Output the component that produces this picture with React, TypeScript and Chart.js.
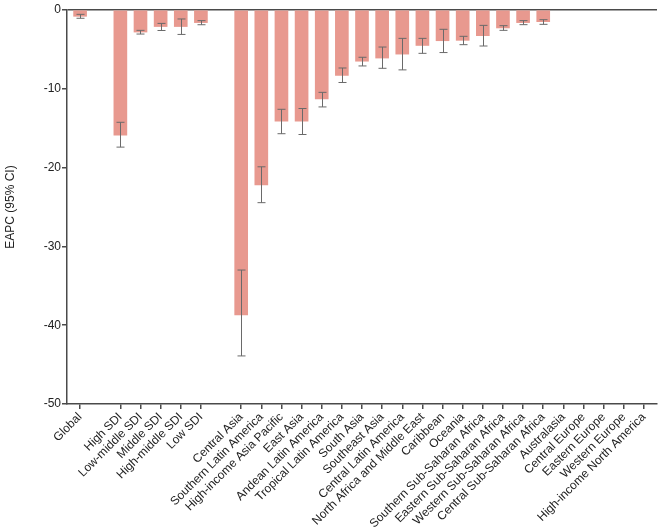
import React, { useEffect, useRef } from "react";
import { Chart, registerables } from "chart.js";

Chart.register(...registerables);

const categories: string[] = [
  "Global", "",
  "High SDI", "Low-middle SDI", "Middle SDI", "High-middle SDI", "Low SDI", "",
  "Central Asia", "Southern Latin America", "High-income Asia Pacific", "East Asia",
  "Andean Latin America", "Tropical Latin America", "South Asia", "Southeast Asia",
  "Central Latin America", "North Africa and Middle East", "Caribbean", "Oceania",
  "Southern Sub-Saharan Africa", "Eastern Sub-Saharan Africa", "Western Sub-Saharan Africa",
  "Central Sub-Saharan Africa", "Australasia", "Central Europe", "Eastern Europe",
  "Western Europe", "High-income North America",
];

const eapc: (number | null)[] = [
  -0.8, null,
  -15.9, -2.8, -2.1, -2.1, -1.6, null,
  -38.7, -22.2, -14.1, -14.1, -11.3, -8.3, -6.5, -6.1, -5.6, -4.5, -3.9, -3.85,
  -3.26, -2.28, -1.6, -1.48, null, null, null, null, null,
];

const ciLower: (number | null)[] = [
  -1.05, null,
  -17.4, -3.05, -2.6, -3.1, -1.87, null,
  -43.9, -24.45, -15.7, -15.8, -12.3, -9.2, -7.1, -7.4, -7.6, -5.5, -5.4, -4.4,
  -4.57, -2.58, -1.86, -1.82, null, null, null, null, null,
];

const ciUpper: (number | null)[] = [
  -0.55, null,
  -14.25, -2.58, -1.7, -1.14, -1.35, null,
  -33.0, -19.9, -12.6, -12.5, -10.45, -7.36, -6.0, -4.7, -3.6, -3.6, -2.45, -3.34,
  -1.95, -1.99, -1.35, -1.23, null, null, null, null, null,
];

const yTicks: number[] = [0, -10, -20, -30, -40, -50];

const AXIS = "#4a4a4a";
const BAR = "#E8998F";
const FONT = "'Liberation Sans', Arial, sans-serif";

const errorBars = {
  id: "errorBars",
  afterDatasetsDraw(chart: any) {
    const { ctx, scales } = chart;
    const xs = scales.x;
    const ys = scales.y;
    ctx.save();
    ctx.strokeStyle = "#6a6a6a";
    ctx.lineWidth = 1;
    for (let i = 0; i < categories.length; i++) {
      const lo = ciLower[i];
      const hi = ciUpper[i];
      if (lo == null || hi == null) continue;
      const x = Math.round(xs.getPixelForValue(i)) + 0.5;
      const y1 = ys.getPixelForValue(lo);
      const y2 = ys.getPixelForValue(hi);
      ctx.beginPath();
      ctx.moveTo(x, y1);
      ctx.lineTo(x, y2);
      ctx.moveTo(x - 4, y1);
      ctx.lineTo(x + 4, y1);
      ctx.moveTo(x - 4, y2);
      ctx.lineTo(x + 4, y2);
      ctx.stroke();
    }
    ctx.restore();
  },
};

export default function App() {
  const ref = useRef<HTMLCanvasElement | null>(null);

  useEffect(() => {
    if (!ref.current) return;
    const data = categories
      .map((c, i) => ({ x: i, y: eapc[i] }))
      .filter((d) => d.y !== null);
    const tickIdx = categories.map((c, i) => i).filter((i) => categories[i] !== "");
    const chart = new Chart(ref.current, {
      type: "bar",
      data: {
        datasets: [
          {
            data: data as any,
            backgroundColor: BAR,
            borderWidth: 0,
            barThickness: 13,
          },
        ],
      },
      options: {
        animation: false,
        responsive: false,
        maintainAspectRatio: false,
        layout: { padding: { top: 10, right: 9, left: 3, bottom: 0 } },
        plugins: {
          legend: { display: false },
          tooltip: { enabled: false },
        },
        scales: {
          x: {
            type: "linear",
            offset: false,
            min: -0.65,
            max: categories.length - 0.35,
            afterBuildTicks: (axis: any) => {
              axis.ticks = tickIdx.map((v) => ({ value: v }));
            },
            afterFit: (axis: any) => {
              axis.height = 125;
            },
            ticks: {
              autoSkip: false,
              minRotation: 45,
              maxRotation: 45,
              padding: 1,
              color: "#222",
              font: { family: FONT, size: 12 },
              callback: (v: any) => categories[v] ?? "",
            },
            grid: {
              drawOnChartArea: false,
              offset: false,
              drawTicks: true,
              tickLength: 5,
              color: AXIS,
              lineWidth: 1.5,
            },
            border: { display: true, color: AXIS, width: 1.5 },
          },
          y: {
            min: -50,
            max: 0,
            afterBuildTicks: (axis: any) => {
              axis.ticks = yTicks.map((v) => ({ value: v }));
            },
            afterFit: (axis: any) => {
              axis.width = 64;
            },
            ticks: {
              padding: 1,
              color: "#222",
              font: { family: FONT, size: 12 },
              callback: (v: any) => String(v),
            },
            grid: {
              drawTicks: true,
              tickLength: 5,
              color: (c: any) => (c.tick && c.tick.value === 0 ? AXIS : "transparent"),
              tickColor: AXIS,
              lineWidth: 1.5,
            },
            border: { display: true, color: AXIS, width: 1.5 },
            title: {
              display: true,
              text: "EAPC (95% CI)",
              color: "#222",
              font: { family: FONT, size: 12 },
              padding: { top: 0, bottom: 0 },
            },
          },
        },
      },
      plugins: [errorBars],
    });
    return () => chart.destroy();
  }, []);

  return (
    <div style={{ position: "fixed", left: 0, top: 0, width: 666, height: 529, background: "#fff" }}>
      <canvas ref={ref} width={666} height={529} style={{ display: "block", width: 666, height: 529 }} />
    </div>
  );
}
